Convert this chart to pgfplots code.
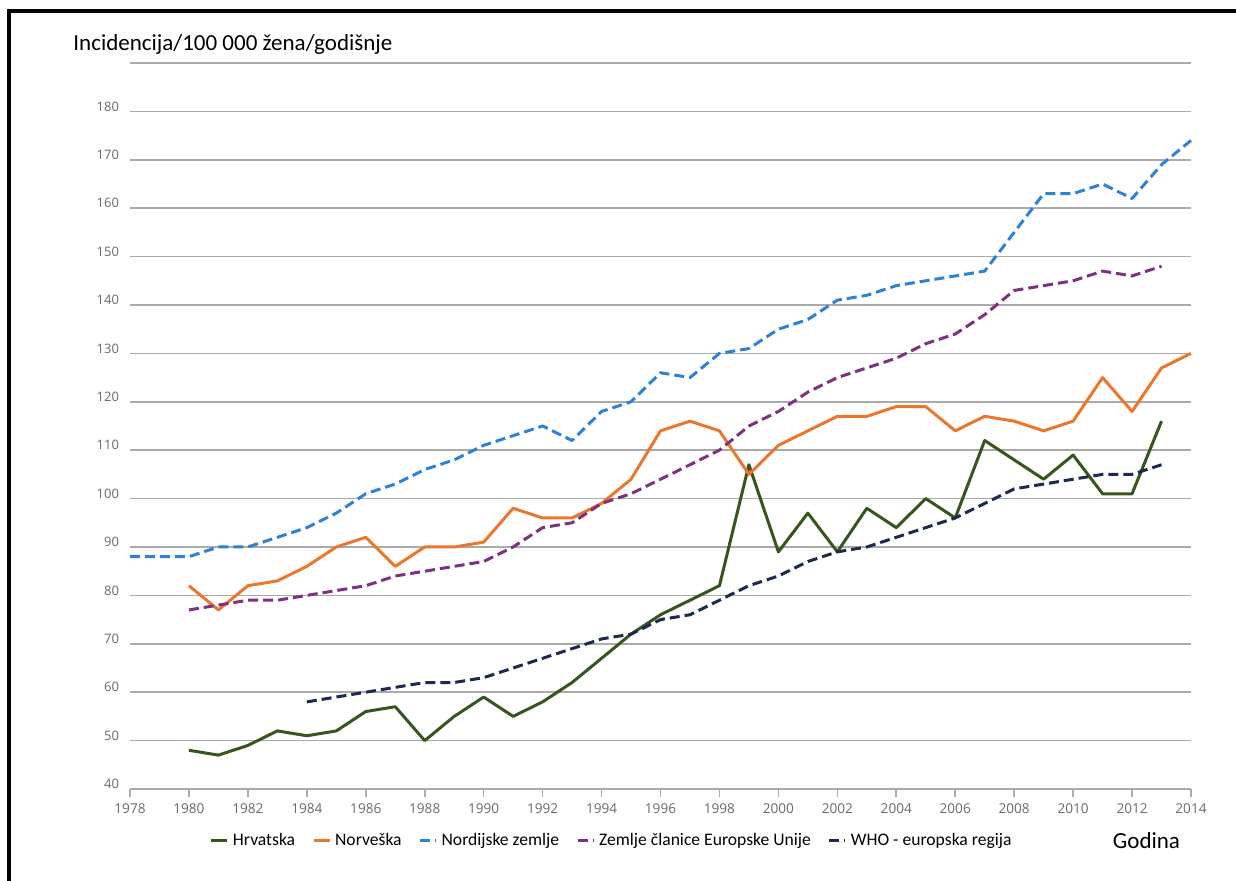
\documentclass[border=0pt]{standalone}
\usepackage{pgfplots}
\pgfplotsset{compat=1.18}
\usepackage{fontspec}
\setmainfont{Carlito}
\newfontfamily\tickfont{Open Sans}
\definecolor{cHr}{RGB}{55,86,30}
\definecolor{cNo}{RGB}{237,118,45}
\definecolor{cNd}{RGB}{45,130,215}
\definecolor{cEU}{RGB}{128,48,128}
\definecolor{cWHO}{RGB}{28,42,78}
\definecolor{tickgray}{RGB}{105,105,105}
\definecolor{gridgray}{RGB}{170,170,170}
\begin{document}
\begin{tikzpicture}
\useasboundingbox (-65pt,-46pt) rectangle (553pt,394.5pt);
\fill[black] (-61.5pt,-46pt) rectangle (-59.5pt,390pt);
\fill[black] (-61.5pt,388pt) rectangle (553pt,390pt);
\begin{axis}[
  scale only axis,
  width=530.5pt, height=363pt,
  xmin=1978, xmax=2014, ymin=40, ymax=190,
  axis lines*=left,
  x axis line style={draw=gridgray, line width=0.8pt},
  y axis line style={draw=none},
  xtick={1978,1980,...,2014},
  ytick={40,50,...,190},
  yticklabels={40,50,60,70,80,90,100,110,120,130,140,150,160,170,180,},
  xticklabel style={/pgf/number format/1000 sep={}, font=\tickfont\fontsize{6.8}{8}\selectfont, text=tickgray},
  yticklabel style={font=\tickfont\fontsize{6.5}{8}\selectfont, text=tickgray, yshift=2.5pt, xshift=-2pt},
  /pgf/number format/assume math mode=true,
  x tick style={draw=gridgray, line width=0.8pt},
  xtick align=outside,
  major tick length=4pt,
  y tick style={draw=none},
  ymajorgrids,
  grid style={draw=gridgray, line width=0.8pt},
  clip=false,
  legend columns=5,
  legend style={draw=none, fill=none, at={(0.455,-0.0716)}, anchor=center,
    font=\fontsize{8.8}{10}\selectfont,
    /tikz/every even column/.append style={column sep=6.5pt}},
  legend image code/.code={\draw[#1, line width=1.5pt] (0pt,0pt) -- (8pt,0pt);},
  every axis plot/.append style={line width=1.5pt, line join=round},
]
\addplot[cHr] coordinates {
(1980,48)(1981,47)(1982,49)(1983,52)(1984,51)(1985,52)(1986,56)(1987,57)(1988,50)(1989,55)
(1990,59)(1991,55)(1992,58)(1993,62)(1994,67)(1995,72)(1996,76)(1997,79)(1998,82)(1999,107)
(2000,89)(2001,97)(2002,89)(2003,98)(2004,94)(2005,100)(2006,96)(2007,112)(2008,108)(2009,104)
(2010,109)(2011,101)(2012,101)(2013,116)};
\addlegendentry{Hrvatska}
\addplot[cNo] coordinates {
(1980,82)(1981,77)(1982,82)(1983,83)(1984,86)(1985,90)(1986,92)(1987,86)(1988,90)(1989,90)
(1990,91)(1991,98)(1992,96)(1993,96)(1994,99)(1995,104)(1996,114)(1997,116)(1998,114)(1999,105)
(2000,111)(2001,114)(2002,117)(2003,117)(2004,119)(2005,119)(2006,114)(2007,117)(2008,116)(2009,114)
(2010,116)(2011,125)(2012,118)(2013,127)(2014,130)};
\addlegendentry{Norveška}
\addplot[cNd, dash pattern=on 5pt off 2.5pt] coordinates {
(1978,88)(1979,88)(1980,88)(1981,90)(1982,90)(1983,92)(1984,94)(1985,97)(1986,101)(1987,103)
(1988,106)(1989,108)(1990,111)(1991,113)(1992,115)(1993,112)(1994,118)(1995,120)(1996,126)(1997,125)
(1998,130)(1999,131)(2000,135)(2001,137)(2002,141)(2003,142)(2004,144)(2005,145)(2006,146)(2007,147)
(2008,155)(2009,163)(2010,163)(2011,165)(2012,162)(2013,169)(2014,174)};
\addlegendentry{Nordijske zemlje}
\addplot[cEU, dash pattern=on 5pt off 2.5pt] coordinates {
(1980,77)(1981,78)(1982,79)(1983,79)(1984,80)(1985,81)(1986,82)(1987,84)(1988,85)(1989,86)
(1990,87)(1991,90)(1992,94)(1993,95)(1994,99)(1995,101)(1996,104)(1997,107)(1998,110)(1999,115)
(2000,118)(2001,122)(2002,125)(2003,127)(2004,129)(2005,132)(2006,134)(2007,138)(2008,143)(2009,144)
(2010,145)(2011,147)(2012,146)(2013,148)};
\addlegendentry{Zemlje članice Europske Unije}
\addplot[cWHO, dash pattern=on 5pt off 2.5pt] coordinates {
(1984,58)(1985,59)(1986,60)(1987,61)(1988,62)(1989,62)(1990,63)(1991,65)(1992,67)(1993,69)
(1994,71)(1995,72)(1996,75)(1997,76)(1998,79)(1999,82)(2000,84)(2001,87)(2002,89)(2003,90)
(2004,92)(2005,94)(2006,96)(2007,99)(2008,102)(2009,103)(2010,104)(2011,105)(2012,105)(2013,107)};
\addlegendentry{WHO - europska regija}
\node[anchor=west, font=\fontsize{11.5}{13}\selectfont] at (rel axis cs:-0.0600,1.0248) {Incidencija/100 000 žena/godišnje};
\node[anchor=center, font=\fontsize{11.5}{13}\selectfont] at (rel axis cs:0.958,-0.0716) {Godina};
\end{axis}
\end{tikzpicture}
\end{document}
